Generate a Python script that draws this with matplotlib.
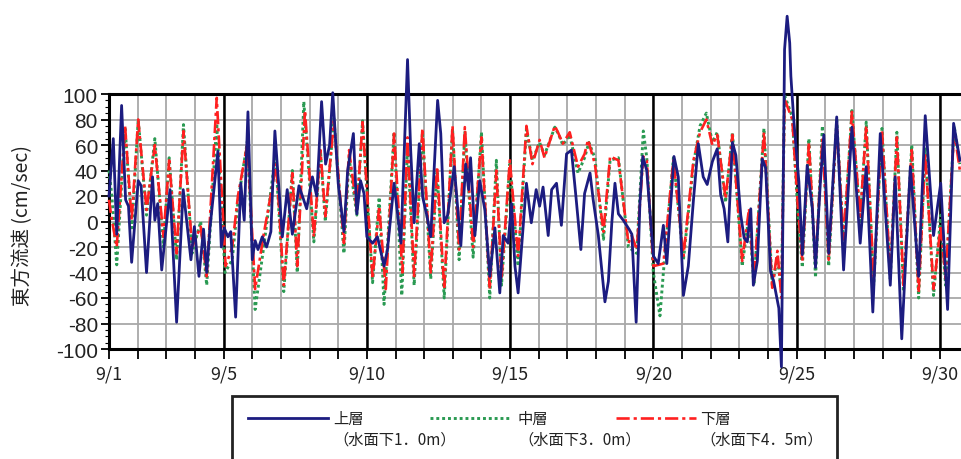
import numpy as np
import matplotlib.pyplot as plt
from matplotlib.lines import Line2D
from matplotlib.patches import Rectangle
from matplotlib.ticker import MultipleLocator

plt.rcParams['font.family'] = ['Noto Sans CJK JP', 'DejaVu Sans']
plt.rcParams['axes.unicode_minus'] = False

# days counted from 9/1 00:00, values in cm/sec (turning points)
upper_t = [0.0, 0.15, 0.27, 0.44, 0.58, 0.68, 0.79, 1.02, 1.12, 1.31, 1.52, 1.6, 1.7, 1.84,
           2.13, 2.36, 2.59, 2.86, 2.98, 3.14, 3.3, 3.41, 3.52, 3.8, 3.92, 4.02, 4.15, 4.25,
           4.42, 4.6, 4.72, 4.85, 5.0, 5.1, 5.2, 5.35, 5.5, 5.65, 5.79, 6.05, 6.22, 6.4, 6.63,
           6.9, 7.1, 7.25, 7.42, 7.56, 7.7, 7.81, 8.0, 8.2, 8.33, 8.53, 8.65, 8.78, 8.9, 9.0,
           9.2, 9.37, 9.6, 9.72, 9.95, 10.19, 10.42, 10.53, 10.65, 10.83, 10.95, 11.1, 11.23,
           11.47, 11.58, 11.7, 11.82, 12.05, 12.28, 12.45, 12.55, 12.62, 12.77, 12.94, 13.12,
           13.29, 13.47, 13.64, 13.76, 13.93, 14.05, 14.17, 14.28, 14.45, 14.57, 14.74, 14.91,
           15.03, 15.15, 15.33, 15.45, 15.62, 15.79, 15.97, 16.14, 16.3, 16.47, 16.6, 16.79,
           16.9, 17.08, 17.31, 17.43, 17.55, 17.66, 17.78, 17.95, 18.15, 18.25, 18.4, 18.53,
           18.63, 18.77, 19.0, 19.17, 19.35, 19.47, 19.58, 19.72, 19.87, 20.05, 20.22, 20.4,
           20.57, 20.74, 20.88, 21.06, 21.23, 21.35, 21.47, 21.6, 21.76, 21.88, 22.05, 22.17,
           22.28, 22.4, 22.49, 22.63, 22.8, 22.92, 23.09, 23.2, 23.38, 23.47, 23.58, 23.67,
           23.76, 23.8, 23.9, 24.08, 24.2, 24.37, 24.55, 24.66, 24.83, 24.95, 25.12, 25.4,
           25.64, 25.93, 26.22, 26.43, 26.66, 26.92, 27.27, 27.44, 27.67, 27.97, 28.26, 28.49,
           28.78, 29.03, 29.27, 29.48, 29.7]
upper_v = [20, 65, -10, 91, 17, 12, -32, 32, 28, -40, 35, 1, 14, -38,
           25, -79, 25, -30, -4, -43, -6, -40, -6, 55, -20, -5, -12, -8,
           -75, 30, 1, 86, -30, -15, -22, -12, -20, -8, 71, -12, 25, -10, 28,
           10, 35, 20, 94, 45, 60, 101, 30, -8, 40, 69, 6, 32, 22, -12,
           -17, -12, -35, -22, 30, -17, 127, 56, -1, 61, 19, 4, -12,
           95, 69, -1, 5, 43, -19, 45, 25, 50, -11, 32, 9,
           -43, -5, -56, -11, -17, 14, -35, -56, -5, 30, -1, 25,
           12, 27, -11, 25, 30, -3, 53, 56, 19, -22, 22, 38,
           17, -11, -63, -47, -1, 30, 6, 1, -6, -10, -79, 14,
           51, 40, -27, -33, -3, -33, 4, 51, 35, -58, -35, 17,
           61, 35, 29, 47, 57, 21, 10, -16, 62, 52, 5, -13,
           -16, 10, -50, -31, 49, 42, -39, -47, -68, -114, 135, 161,
           140, 114, 80, 31, -26, 44, 10, -36, 31, 68, -25, 82,
           -38, 74, -17, 43, -71, 69, -50, 35, -92, 43, -43, 83,
           -11, 30, -69, 77, 48]

middle_t = [0.0, 0.1, 0.27, 0.56, 0.8, 1.02, 1.31, 1.6, 1.9, 2.1, 2.36, 2.6, 2.9, 3.2, 3.41,
            3.76, 4.05, 4.3, 4.5, 4.83, 5.1, 5.4, 5.81, 6.1, 6.4, 6.57, 6.8, 7.15, 7.38, 7.55,
            7.85, 8.2, 8.38, 8.65, 8.85, 9.2, 9.43, 9.6, 9.95, 10.22, 10.42, 10.65, 10.94,
            11.23, 11.45, 11.7, 11.99, 12.22, 12.42, 12.71, 13.0, 13.29, 13.52, 13.7, 13.99,
            14.28, 14.57, 14.78, 15.03, 15.2, 15.56, 15.7, 15.84, 16.08, 16.37, 16.6, 16.75,
            16.96, 17.26, 17.49, 17.78, 18.13, 18.42, 18.65, 18.77, 19.0, 19.23, 19.35, 19.7,
            20.05, 20.4, 20.63, 20.85, 21.06, 21.23, 21.52, 21.76, 22.1, 22.34, 22.51, 22.86,
            23.15, 23.33, 23.47, 23.58, 23.85, 24.05, 24.2, 24.43, 24.66, 24.9, 25.12, 25.4,
            25.64, 25.93, 26.22, 26.43, 26.69, 26.98, 27.27, 27.5, 27.73, 28.02, 28.26, 28.49,
            28.78, 29.03, 29.2, 29.5, 29.7]
middle_v = [40, 20, -34, 74, -5, 80, 5, 65, -20, 50, -30, 76, -25, 0, -50,
            77, -40, -30, 15, 63, -69, -20, 52, -55, 40, -40, 94, -16, 55, 0,
            81, -25, 50, 5, 79, -48, 19, -65, 70, -58, 60, -50, 70,
            -45, 40, -60, 73, -30, 70, -28, 70, -60, 48, -50, 45,
            -35, 72, 48, 62, 52, 74, 68, 60, 68, 38, 50, 62,
            50, -14, 48, 50, -20, -25, 71, 50, -40, -74, -40, 50,
            -30, 45, 75, 85, 62, 70, 15, 70, -35, 5, -50, 73,
            -50, -28, -55, 99, 82, 5, -36, 65, -44, 75, -35, 80,
            -20, 87, 0, 78, -50, 73, -45, 70, -55, 60, -60, 58,
            -58, 5, -50, 75, 45]

lower_t = [0.0, 0.08, 0.27, 0.56, 0.79, 1.02, 1.31, 1.6, 1.9, 2.1, 2.36, 2.6, 2.9, 3.2, 3.41,
           3.76, 4.07, 4.3, 4.5, 4.83, 5.1, 5.4, 5.84, 6.1, 6.4, 6.57, 6.84, 7.15, 7.38, 7.55,
           7.85, 8.2, 8.38, 8.65, 8.85, 9.2, 9.43, 9.66, 9.95, 10.24, 10.42, 10.65, 10.94,
           11.23, 11.45, 11.7, 11.99, 12.22, 12.42, 12.71, 13.0, 13.29, 13.52, 13.7, 13.99,
           14.28, 14.57, 14.78, 15.03, 15.2, 15.56, 15.67, 15.84, 16.08, 16.37, 16.6, 16.72,
           16.96, 17.26, 17.49, 17.78, 18.13, 18.25, 18.42, 18.65, 18.77, 19.0, 19.35, 19.7,
           20.05, 20.4, 20.63, 20.85, 21.06, 21.23, 21.52, 21.76, 22.1, 22.34, 22.51, 22.86,
           23.15, 23.33, 23.47, 23.58, 23.85, 24.05, 24.2, 24.43, 24.66, 24.9, 25.12, 25.4,
           25.64, 25.93, 26.22, 26.43, 26.69, 26.98, 27.27, 27.5, 27.73, 28.02, 28.26, 28.49,
           28.78, 29.03, 29.2, 29.5, 29.7]
lower_v = [17, 4, -20, 75, 1, 80, 9, 60, -12, 48, -25, 71, -20, -4, -43,
           97, -35, -20, 20, 61, -53, -10, 45, -50, 38, -35, 87, -12, 56, 4,
           79, -17, 56, 9, 78, -45, 12, -53, 69, -40, 66, -43, 73,
           -40, 43, -53, 75, -22, 74, -20, 66, -53, 40, -45, 48,
           -27, 75, 45, 64, 50, 75, 70, 61, 70, 43, 53, 64,
           45, -8, 51, 48, -17, -11, -22, 51, 48, -35, -33, 48,
           -27, 48, 70, 80, 60, 68, 18, 68, -31, 10, -47, 70,
           -52, -23, -60, 96, 80, 10, -31, 62, -34, 65, -30, 77,
           -14, 86, 4, 75, -45, 71, -40, 66, -50, 56, -56, 53,
           -53, -3, -45, 71, 40]

day_labels = ['9/1', '9/5', '9/10', '9/15', '9/20', '9/25', '9/30']
label_days = [0, 4, 9, 14, 19, 24, 29]
legend_names = ['上層\n（水面下1．0m）', '中層\n（水面下3．0m）', '下層\n（水面下4．5m）']

blue = '#1c1c80'
green = '#2a9a52'
red = '#ff2020'

fig = plt.figure(figsize=(9.61, 4.6), dpi=100)
ax = fig.add_axes([109 / 961, 110 / 460, 31 * 28.65 / 961, 255 / 460])

styles = [dict(color=blue, lw=2.0, ls='-'),
          dict(color=green, lw=2.1, ls=(0, (1, 1))),
          dict(color=red, lw=1.9, ls=(0, (5, 1.5, 1.2, 1.5)))]

ax.plot(middle_t, middle_v, clip_on=False, zorder=3, **styles[1])
ax.plot(lower_t, lower_v, clip_on=False, zorder=4, **styles[2])
ax.plot(upper_t, upper_v, clip_on=False, zorder=5, **styles[0])

ax.set_xlim(0, 31)
ax.set_ylim(-100, 100)

ax.set_xticks(range(0, 31))
ax.set_xticklabels([day_labels[label_days.index(d)] if d in label_days else '' for d in range(31)])
ax.yaxis.set_major_locator(MultipleLocator(20))
ax.yaxis.set_minor_locator(MultipleLocator(5))

ax.grid(True, which='major', color='#a8a8a8', lw=1.3)
for d in label_days[1:]:
    ax.axvline(d, color='black', lw=1.8, zorder=2)

ax.tick_params(axis='x', direction='out', length=7, width=1.3, labelsize=13, pad=4,
               colors='black', labelcolor='#222222')
ax.tick_params(axis='y', which='major', direction='out', length=6, width=1.3,
               labelsize=15, pad=2, labelcolor='#222222')
ax.tick_params(axis='y', which='minor', direction='out', length=3, width=0.8)
for lab in ax.get_yticklabels():
    lab.set_family(['Liberation Sans', 'DejaVu Sans'])
for s in ax.spines.values():
    s.set_linewidth(2.2)

fig.text(23 / 961, 1 - 226 / 460, '東方流速 (cm/sec)', rotation=90, ha='center', va='center',
         fontsize=14, color='#222222')

# legend box, cut by the bottom edge like the original
W, H = 961, 460
fig.add_artist(Rectangle((232 / W, -0.05), (837 - 232) / W, (460 - 397) / H + 0.05,
                         transform=fig.transFigure, fill=False, lw=2, ec='#222222'))
hx = [248, 430, 616]
tx = [333, 518, 700]
for i in range(3):
    fig.add_artist(Line2D([hx[i] / W, (hx[i] + 80) / W], [1 - 419 / H] * 2,
                          transform=fig.transFigure, **styles[i]))
    fig.text(tx[i] / W, 1 - 430 / H, legend_names[i], ha='left', va='center',
             fontsize=11, color='#222222', linespacing=1.25)

fig.savefig('out.png', dpi=100)
